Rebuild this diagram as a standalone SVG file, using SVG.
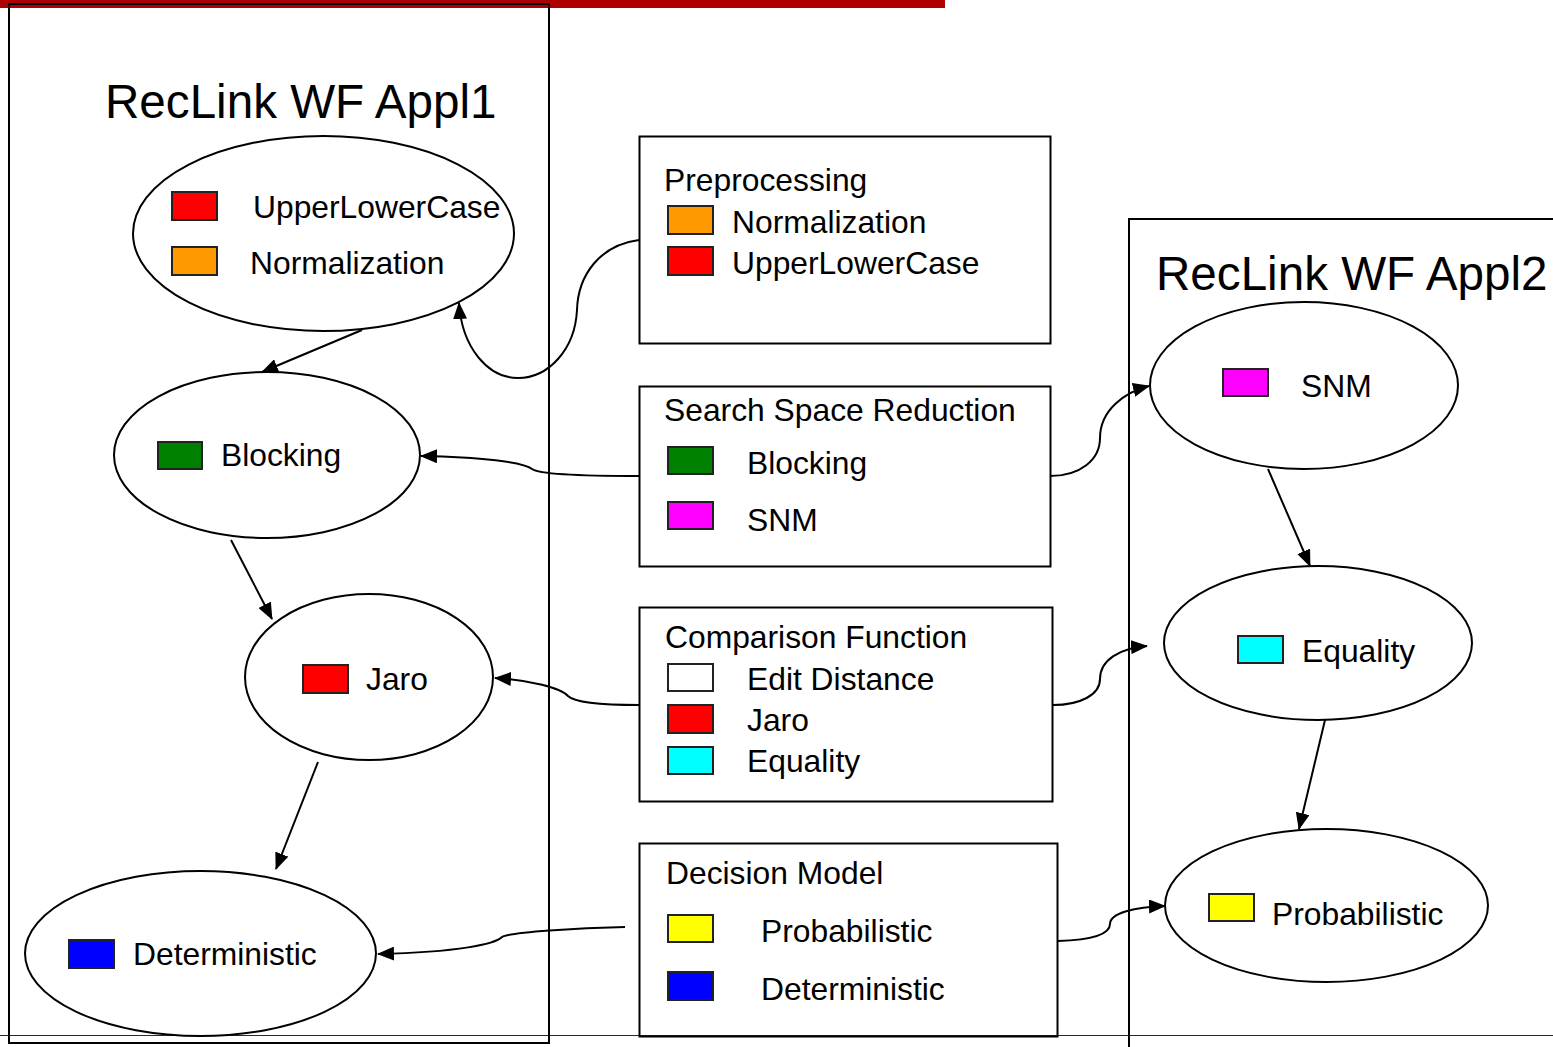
<svg xmlns="http://www.w3.org/2000/svg" width="1553" height="1047" viewBox="0 0 1553 1047">
<style>
text{font-family:"Liberation Sans",Arial,sans-serif;fill:#000}
.t{font-size:31.8px}
.h{font-size:47.6px}
.box{fill:none;stroke:#000;stroke-width:2}
.ell{fill:#fff;stroke:#000;stroke-width:2}
.sw{stroke:#222;stroke-width:2}
.con{fill:none;stroke:#000;stroke-width:2}
</style>
<defs>
<marker id="arr" markerUnits="userSpaceOnUse" markerWidth="18" markerHeight="14" refX="16" refY="7" orient="auto">
<path d="M0,0 L17,7 L0,14 z" fill="#000"/>
</marker>
</defs>
<rect x="0" y="0" width="945" height="8" fill="#ae0000"/>
<line x1="0" y1="1035.5" x2="1553" y2="1035.5" stroke="#8a0000" stroke-width="1"/>

<g id="appl1">
<rect class="box" x="9" y="4" width="540" height="1039"/>
<text class="h" x="105" y="118">RecLink WF Appl1</text>
</g>
<g id="appl2">
<rect class="box" x="1129" y="219" width="440" height="900"/>
<text class="h" x="1156" y="290">RecLink WF Appl2</text>
</g>

<g id="e-pre">
<ellipse class="ell" cx="323.5" cy="233.5" rx="190.5" ry="97.5"/>
<rect class="sw" x="172" y="192" width="45" height="28" fill="#ff0000"/>
<text class="t" x="253" y="218">UpperLowerCase</text>
<rect class="sw" x="172" y="247" width="45" height="28" fill="#ff9900"/>
<text class="t" x="250" y="274">Normalization</text>
</g>
<g id="e-blocking">
<ellipse class="ell" cx="267" cy="455" rx="153" ry="83"/>
<rect class="sw" x="158" y="442" width="44" height="27" fill="#008000"/>
<text class="t" x="221" y="466">Blocking</text>
</g>
<g id="e-jaro">
<ellipse class="ell" cx="369" cy="677" rx="124" ry="83"/>
<rect class="sw" x="303" y="665" width="45" height="28" fill="#ff0000"/>
<text class="t" x="366" y="690">Jaro</text>
</g>
<g id="e-det">
<ellipse class="ell" cx="200.5" cy="953.5" rx="175.5" ry="82.5"/>
<rect class="sw" x="69" y="940" width="45" height="28" fill="#0000ff"/>
<text class="t" x="133" y="965">Deterministic</text>
</g>

<g id="e-snm">
<ellipse class="ell" cx="1304" cy="385.5" rx="154" ry="83.5"/>
<rect class="sw" x="1223" y="369" width="45" height="27" fill="#ff00ff"/>
<text class="t" x="1301" y="397">SNM</text>
</g>
<g id="e-eq">
<ellipse class="ell" cx="1318" cy="643" rx="154" ry="77"/>
<rect class="sw" x="1238" y="636" width="45" height="27" fill="#00ffff"/>
<text class="t" x="1302" y="662">Equality</text>
</g>
<g id="e-prob">
<ellipse class="ell" cx="1326.5" cy="905.5" rx="161.5" ry="76.5"/>
<rect class="sw" x="1209" y="894" width="45" height="27" fill="#ffff00"/>
<text class="t" x="1272" y="925">Probabilistic</text>
</g>

<g id="b-pre">
<rect class="box" x="639.5" y="136.5" width="411" height="207" fill="#fff"/>
<text class="t" x="664" y="191">Preprocessing</text>
<rect class="sw" x="668" y="206" width="45" height="28" fill="#ff9900"/>
<text class="t" x="732" y="233">Normalization</text>
<rect class="sw" x="668" y="247" width="45" height="28" fill="#ff0000"/>
<text class="t" x="732" y="274">UpperLowerCase</text>
</g>
<g id="b-ssr">
<rect class="box" x="639.5" y="386.5" width="411" height="180"/>
<text class="t" x="664" y="421">Search Space Reduction</text>
<rect class="sw" x="668" y="447" width="45" height="27" fill="#008000"/>
<text class="t" x="747" y="474">Blocking</text>
<rect class="sw" x="668" y="502" width="45" height="27" fill="#ff00ff"/>
<text class="t" x="747" y="531">SNM</text>
</g>
<g id="b-cmp">
<rect class="box" x="639.5" y="607.5" width="413" height="194"/>
<text class="t" x="665" y="648">Comparison Function</text>
<rect class="sw" x="668" y="664" width="45" height="27" fill="#ffffff"/>
<text class="t" x="747" y="690">Edit Distance</text>
<rect class="sw" x="668" y="705" width="45" height="28" fill="#ff0000"/>
<text class="t" x="747" y="731">Jaro</text>
<rect class="sw" x="668" y="747" width="45" height="27" fill="#00ffff"/>
<text class="t" x="747" y="772">Equality</text>
</g>
<g id="b-dec">
<rect class="box" x="639.5" y="843.5" width="418" height="193"/>
<text class="t" x="666" y="884">Decision Model</text>
<rect class="sw" x="668" y="915" width="45" height="27" fill="#ffff00"/>
<text class="t" x="761" y="942">Probabilistic</text>
<rect class="sw" x="668" y="972" width="45" height="28" fill="#0000ff"/>
<text class="t" x="761" y="1000">Deterministic</text>
</g>

<g id="connectors">
<path class="con" marker-end="url(#arr)" d="M362,330 L262,372"/>
<path class="con" marker-end="url(#arr)" d="M231,540 L272,619"/>
<path class="con" marker-end="url(#arr)" d="M318,762 L276,869"/>
<path class="con" marker-end="url(#arr)" d="M1268,469 L1310,566"/>
<path class="con" marker-end="url(#arr)" d="M1325,720 L1299,829"/>
<path class="con" marker-end="url(#arr)" d="M639,240 C600,245 578,275 577,310 C575,350 548,378 518,378 C488,378 462,348 459,303"/>
<path class="con" marker-end="url(#arr)" d="M639,476 C600,476 540,475 532,469 C524,462 480,457 421,456"/>
<path class="con" marker-end="url(#arr)" d="M1050,476 C1080,476 1100,460 1100,438 C1100,410 1125,392 1149,386"/>
<path class="con" marker-end="url(#arr)" d="M639,705 C610,705 575,703 568,696 C561,688 530,680 495,678"/>
<path class="con" marker-end="url(#arr)" d="M1053,705 C1080,705 1100,695 1100,679 C1100,660 1120,648 1147,646"/>
<path class="con" marker-end="url(#arr)" d="M625,927 C580,928 510,932 502,937 C495,944 460,952 378,954"/>
<path class="con" marker-end="url(#arr)" d="M1058,941 C1090,940 1110,935 1110,924 C1110,913 1135,907 1165,906"/>
</g>
</svg>
